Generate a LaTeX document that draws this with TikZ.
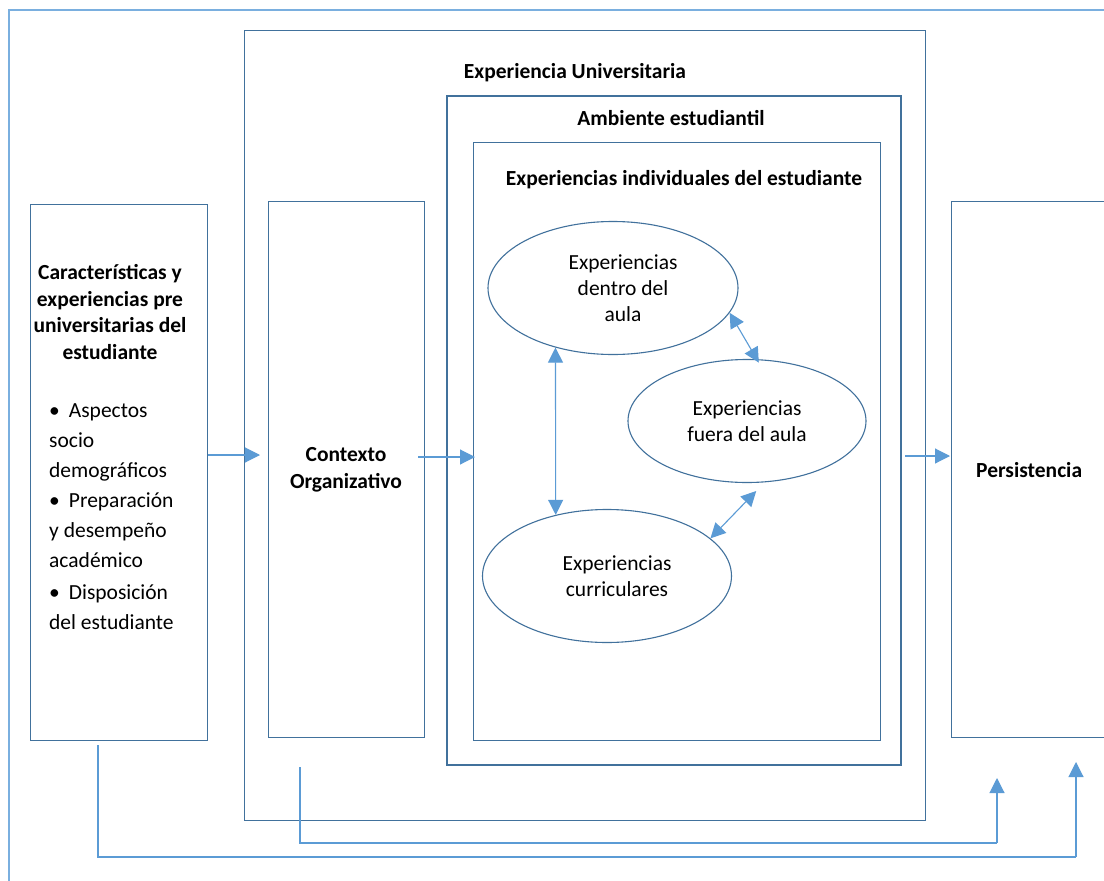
\documentclass[tikz,border=0pt]{standalone}
\usepackage{fontspec}
\setmainfont{Carlito}
\usetikzlibrary{arrows.meta,shapes.geometric}
\definecolor{boxline}{HTML}{41719C}
\definecolor{arrline}{HTML}{5B9BD5}
\definecolor{frameline}{HTML}{7AAFDF}
\tikzset{
  box/.style={draw=boxline, line width=1.1pt, inner sep=0, anchor=north west},
  thickbox/.style={box, line width=2.4pt},
  bubble/.style={ellipse, draw=boxline, line width=1.1pt, inner sep=0,
    align=center, font=\fontsize{21.5}{26}\selectfont},
  txt/.style={inner sep=0, font=\fontsize{21.5}{30}\selectfont},
  btxt/.style={inner sep=0, font=\bfseries\fontsize{21.5}{26.5}\selectfont, align=center},
  arr/.style={draw=arrline, line width=1.1pt,
    -{Triangle[length=15pt,width=15pt]}},
  darr/.style={arr, {Triangle[length=15pt,width=15pt]}-{Triangle[length=15pt,width=15pt]}},
  loopline/.style={draw=arrline, line width=1.1pt}
}
\begin{document}
\begin{tikzpicture}[x=1pt,y=-1pt]
\useasboundingbox (0,0) rectangle (1104,881);
\clip (0,0) rectangle (1104,881);
\fill[white] (0,0) rectangle (1104,881);

% outer frame
\draw[frameline, line width=1.1pt] (9,10) rectangle (1130,900);

% nested containers
\node[box, minimum width=681pt, minimum height=790pt] (univ) at (244,30) {};
\node[thickbox, minimum width=454pt, minimum height=669pt] (amb) at (446,95) {};
\node[box, minimum width=407pt, minimum height=598pt] (indiv) at (473,142) {};

\node[btxt] (univT) at (575,73) {Experiencia Universitaria};
\node[btxt] (ambT) at (671,118) {Ambiente estudiantil};
\node[btxt] (indivT) at (684,180) {Experiencias individuales del estudiante};

% side columns
\node[box, minimum width=177pt, minimum height=536pt] (pre) at (30,204) {};
\node[box, minimum width=156pt, minimum height=536pt] (ctx) at (268,201) {};
\node[box, minimum width=200pt, minimum height=536pt] (pers) at (951,201) {};

\node[btxt] (preT) at (110,312) {Características y\\experiencias pre\\universitarias del\\estudiante};
\node[txt, anchor=base west] (b1) at (49,417) {\textbullet\hspace{9pt}Aspectos};
\node[txt, anchor=base west] (b2) at (49,447) {socio};
\node[txt, anchor=base west] (b3) at (49,477) {demográficos};
\node[txt, anchor=base west] (b4) at (49,507) {\textbullet\hspace{9pt}Preparación};
\node[txt, anchor=base west] (b5) at (49,537) {y desempeño};
\node[txt, anchor=base west] (b6) at (49,567) {académico};
\node[txt, anchor=base west] (b7) at (49,599) {\textbullet\hspace{9pt}Disposición};
\node[txt, anchor=base west] (b8) at (49,629) {del estudiante};

\node[btxt] (ctxT) at (346,470) {Contexto\\Organizativo};
\node[btxt, anchor=west] (persT) at (976,470) {Persistencia};

% individual experiences
\node[bubble, minimum width=250pt, minimum height=133pt] (dentro) at (613,288) {\hspace{20pt}Experiencias\\\hspace{20pt}dentro del\\\hspace{20pt}aula};
\node[bubble, minimum width=238pt, minimum height=123pt] (fuera) at (747,421) {Experiencias\\fuera del aula};
\node[bubble, minimum width=249pt, minimum height=133pt] (curr) at (607,576) {\hspace{20pt}Experiencias\\\hspace{20pt}curriculares};

\draw[darr] (dentro.226) -- (curr.130);
\draw[darr, shorten >=-4pt] (dentro.348) -- (fuera.81);
\draw[darr, shorten >=12pt] (curr.20) -- (fuera.286);

% main flow
\draw[arr] (pre.east |- 0,455) -- ([xshift=-8pt]ctx.west |- 0,455);
\draw[arr] ([xshift=-7pt]ctx.east |- 0,457) -- ([xshift=2pt]indiv.west |- 0,457);
\draw[arr] ([xshift=3pt]amb.east |- 0,456) -- ([xshift=-1pt]pers.west |- 0,456);

% feedback lines
\coordinate (preOut) at ([yshift=-4pt]pre.south -| 98,0);
\coordinate (ctxOut) at ([yshift=-29pt]ctx.south -| 300,0);
\draw[loopline] (preOut) -- (98,857) -- (1076,857);
\draw[arr] (1076,857) -- (1076,762);
\draw[loopline] (ctxOut) -- (300,843) -- (997,843);
\draw[arr] (997,843) -- (997,778);
\end{tikzpicture}
\end{document}
